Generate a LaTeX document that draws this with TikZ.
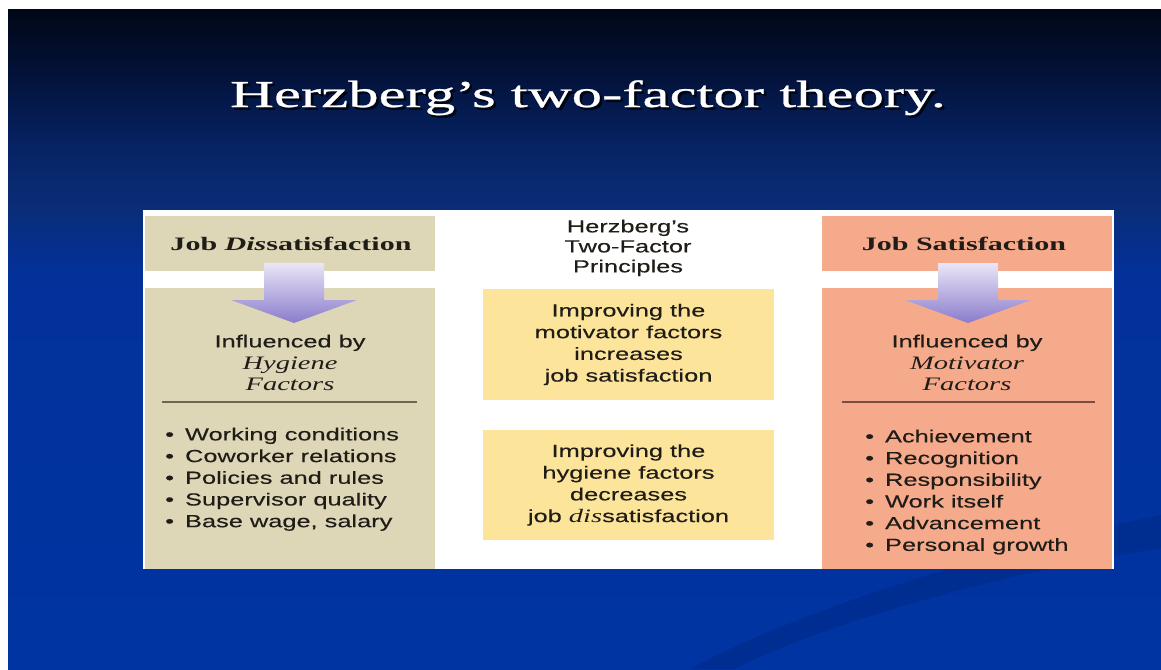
\documentclass[tikz,border=0pt]{standalone}
\usepackage{fontspec}
\setmainfont{Liberation Serif}
\newfontfamily\titlefont[FakeStretch=1.6,FakeBold=0.7]{Liberation Serif}
\newfontfamily\headfont[FakeStretch=1.58]{Liberation Serif}
\newfontfamily\facefont[FakeStretch=1.5]{Liberation Serif}
\newfontfamily\bodyfont[FakeStretch=1.45,FakeBold=0.25]{Liberation Sans}
\newcommand\facfont{\facefont\itshape\fontsize{19}{21.7}\selectfont}
\newcommand\bul{•\hspace{11pt}}

\definecolor{beige}{RGB}{221,215,184}
\definecolor{salmon}{RGB}{245,170,140}
\definecolor{paleyellow}{RGB}{252,229,155}
\definecolor{arrowtop}{RGB}{234,230,247}
\definecolor{arrowbot}{RGB}{138,124,204}
\definecolor{ink}{RGB}{32,28,24}
\definecolor{ruleL}{RGB}{110,102,80}
\definecolor{ruleR}{RGB}{120,78,68}
\definecolor{streak}{RGB}{0,28,100}
\definecolor{bgA}{RGB}{0,52,162}
\definecolor{bgB}{RGB}{3,49,154}
\definecolor{bgC}{RGB}{10,45,120}
\definecolor{bgD}{RGB}{6,34,98}
\definecolor{bgE}{RGB}{3,18,58}
\definecolor{bgF}{RGB}{1,7,23}

% slide background: near-black navy at the top fading into royal blue
\pgfdeclareverticalshading{slidebg}{100bp}{
  color(0bp)=(bgA);
  color(25bp)=(bgA);
  color(55bp)=(bgB);
  color(60bp)=(bgC);
  color(65bp)=(bgD);
  color(70bp)=(bgE);
  color(75bp)=(bgF);
  color(100bp)=(bgF)}

\begin{document}
\begin{tikzpicture}[x=1pt,y=-1pt,
  body/.style={font=\bodyfont\fontsize{17.5}{21.7}\selectfont, text=ink, inner sep=0pt, align=center},
  listtext/.style={body, align=left, anchor=north west},
  head/.style={font=\headfont\bfseries\fontsize{19}{21.7}\selectfont, text=ink, inner sep=0pt, anchor=base},
  titletext/.style={font=\titlefont\fontsize{38}{40}\selectfont, inner sep=0pt, anchor=base},
  rulerL/.style={draw=ruleL, line width=1.4pt},
  rulerR/.style={draw=ruleR, line width=1.4pt},
  bigarrow/.style={top color=arrowtop, bottom color=arrowbot}]

\useasboundingbox (0,0) rectangle (1161,669);
\fill[white] (0,0) rectangle (1161,669);
\shade[shading=slidebg] (8,10) rectangle (1161,669);

% faint diagonal streak in the lower right
\fill[streak, opacity=0.25] (1161,515) .. controls (950,560) and (780,620) .. (690,669)
  -- (735,669) .. controls (820,625) and (990,575) .. (1161,548) -- cycle;

% title with drop shadow
\node[titletext, text=black, opacity=0.75] (titleshadow) at (590.5,109.5) {Herzberg’s two-factor theory.};
\node[titletext, text=white] (title) at (588,107) {Herzberg’s two-factor theory.};

% white card
\fill[white] (143,210) rectangle (1114,569);

% hygiene column
\fill[beige] (145,216) rectangle (435,271);
\fill[beige] (145,288) rectangle (435,569);
% motivator column
\fill[salmon] (822,216) rectangle (1112,271);
\fill[salmon] (822,288) rectangle (1112,569);
% principle boxes
\fill[paleyellow] (483,289) rectangle (774,400);
\fill[paleyellow] (483,430) rectangle (774,540);

% downward arrows
\shade[bigarrow] (264,263) -- (324,263) -- (324,300) -- (357,300) -- (294,323)
  -- (231,300) -- (264,300) -- cycle;
\shade[bigarrow] (938,263) -- (998,263) -- (998,300) -- (1031,300) -- (968,323)
  -- (905,300) -- (938,300) -- cycle;

% column headers
\node[head] (dissat) at (291,250) {Job \textit{Dis}satisfaction};
\node[head] (sat) at (964,250) {Job Satisfaction};
\node[body, anchor=north, font=\bodyfont\fontsize{17.5}{20}\selectfont] (principles) at (628,219.5)
  {Herzberg’s\\Two-Factor\\Principles};

% influence captions
\node[body, anchor=north] (hyg) at (290,334.5) {Influenced by\\{\facfont Hygiene}\\{\facfont Factors}};
\node[body, anchor=north] (mot) at (967,334.5) {Influenced by\\{\facfont Motivator}\\{\facfont Factors}};

\draw[rulerL] (162,402) -- (417,402);
\draw[rulerR] (842,402) -- (1095,402);

% factor lists
\node[listtext] (hyglist) at (165,427.5)
  {\bul Working conditions\\\bul Coworker relations\\\bul Policies and rules\\\bul Supervisor quality\\\bul Base wage, salary};
\node[listtext] (motlist) at (865,429.5)
  {\bul Achievement\\\bul Recognition\\\bul Responsibility\\\bul Work itself\\\bul Advancement\\\bul Personal growth};

% principle statements
\node[body] (p1) at (628.5,344.5) {Improving the\\motivator factors\\increases\\job satisfaction};
\node[body] (p2) at (628.5,485) {Improving the\\hygiene factors\\decreases\\job {\facfont dis}satisfaction};
\end{tikzpicture}
\end{document}
